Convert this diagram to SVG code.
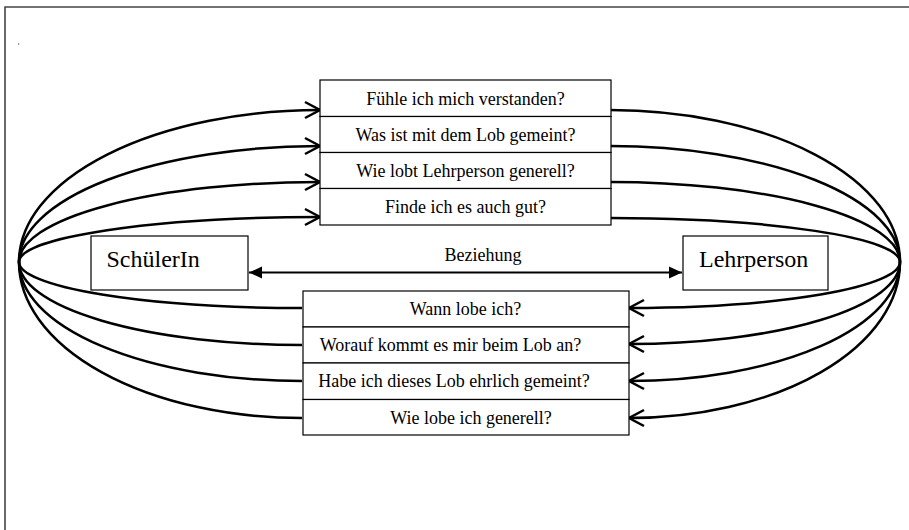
<svg xmlns="http://www.w3.org/2000/svg" width="909" height="530" viewBox="0 0 909 530">
<style>
.box{fill:#fff;stroke:#000;stroke-width:1.2}
.t{font-family:"Liberation Serif","Times New Roman",serif;font-size:18px;fill:#000;text-anchor:middle}
.big{font-family:"Liberation Serif","Times New Roman",serif;font-size:24px;fill:#000}
.c{fill:none;stroke:#000;stroke-width:2.5}
.frame{stroke:#444;stroke-width:1.6;fill:none}
</style>
<defs>
<marker id="open" markerUnits="userSpaceOnUse" markerWidth="20" markerHeight="20" viewBox="-2 -10 20 20" refX="15" refY="0" orient="auto">
<path d="M0,-8 L15,0 L0,8" fill="none" stroke="#000" stroke-width="2.5"/>
</marker>
<marker id="filled" markerUnits="userSpaceOnUse" markerWidth="16" markerHeight="16" viewBox="0 -8 16 16" refX="13" refY="0" orient="auto-start-reverse">
<path d="M0,-6 L13,0 L0,6 Z" fill="#000"/>
</marker>
</defs>
<rect width="909" height="530" fill="#fff"/>
<path class="frame" d="M5,530 L5,7 L909,7"/>
<rect x="18" y="43.5" width="1.2" height="1" fill="#333"/>

<g id="connectors">
<path class="c" marker-end="url(#open)" d="M19,262 A301,152 0 0 1 320,110"/>
<path class="c" marker-end="url(#open)" d="M19,262 A301,116 0 0 1 320,146"/>
<path class="c" marker-end="url(#open)" d="M19,262 A301,80 0 0 1 320,182"/>
<path class="c" marker-end="url(#open)" d="M19,262 A301,45 0 0 1 320,217"/>
<path class="c" d="M610,110 A290,152 0 0 1 900,262"/>
<path class="c" d="M610,146 A290,116 0 0 1 900,262"/>
<path class="c" d="M610,182 A290,80 0 0 1 900,262"/>
<path class="c" d="M610,218 A290,44 0 0 1 900,262"/>
<path class="c" d="M19,262 A283,46 0 0 0 302,308"/>
<path class="c" d="M19,262 A283,83 0 0 0 302,345"/>
<path class="c" d="M19,262 A283,119 0 0 0 302,381"/>
<path class="c" d="M19,262 A283,156 0 0 0 302,418"/>
<path class="c" marker-end="url(#open)" d="M900,262 A271,46 0 0 1 629,308"/>
<path class="c" marker-end="url(#open)" d="M900,262 A271,82 0 0 1 629,344"/>
<path class="c" marker-end="url(#open)" d="M900,262 A271,119 0 0 1 629,381"/>
<path class="c" marker-end="url(#open)" d="M900,262 A271,156 0 0 1 629,418"/>
<path d="M249,272.5 L682,272.5" stroke="#000" stroke-width="2.2" marker-start="url(#filled)" marker-end="url(#filled)"/>
<text class="t" x="483" y="261">Beziehung</text>
</g>

<g id="schuelerin">
<rect class="box" x="91" y="236" width="157" height="54"/>
<text class="big" x="106.5" y="267">SchülerIn</text>
</g>
<g id="lehrperson">
<rect class="box" x="683" y="236" width="145" height="54"/>
<text class="big" x="699" y="267">Lehrperson</text>
</g>

<g id="schueler-fragen">
<rect class="box" x="320" y="80" width="291" height="36.5"/>
<rect class="box" x="320" y="116.5" width="291" height="36"/>
<rect class="box" x="320" y="152.5" width="291" height="36"/>
<rect class="box" x="320" y="188.5" width="291" height="36.5"/>
<text class="t" x="465.5" y="105">Fühle ich mich verstanden?</text>
<text class="t" x="465.5" y="141">Was ist mit dem Lob gemeint?</text>
<text class="t" x="465.5" y="177">Wie lobt Lehrperson generell?</text>
<text class="t" x="465.5" y="213">Finde ich es auch gut?</text>
</g>

<g id="lehrer-fragen">
<rect class="box" x="303" y="291" width="326" height="36"/>
<rect class="box" x="303" y="327" width="326" height="36"/>
<rect class="box" x="303" y="363" width="326" height="36.5"/>
<rect class="box" x="303" y="399.5" width="326" height="35.5"/>
<text class="t" x="465.5" y="315">Wann lobe ich?</text>
<text class="t" x="450.5" y="351">Worauf kommt es mir beim Lob an?</text>
<text class="t" x="454" y="387">Habe ich dieses Lob ehrlich gemeint?</text>
<text class="t" x="471" y="423.5">Wie lobe ich generell?</text>
</g>
</svg>
